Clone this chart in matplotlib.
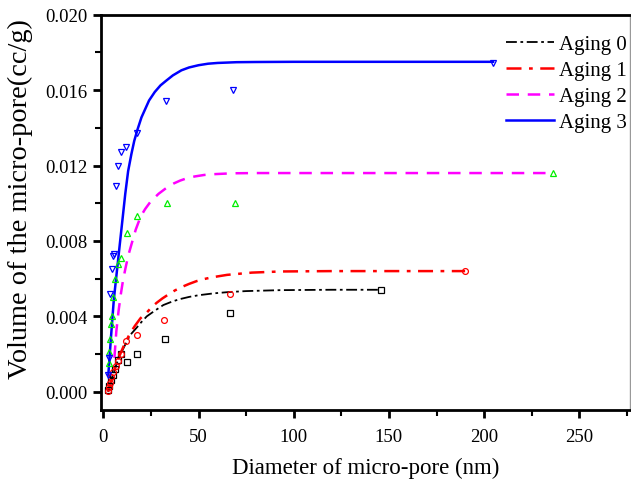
import numpy as np
import matplotlib
matplotlib.use('Agg')
import matplotlib.pyplot as plt
from matplotlib.ticker import MultipleLocator, FormatStrFormatter

plt.rcParams['font.family'] = ['Liberation Serif', 'DejaVu Serif']

# measured points (diameter nm, volume cc/g)
x0 = [2.6, 3.2, 4.0, 5.0, 6.0, 7.6, 9.5, 12.3, 17.5, 32.4, 66.4, 145.8]
y0 = [0.0001, 0.0003, 0.0006, 0.0009, 0.0012, 0.0017, 0.0020, 0.00159, 0.00198, 0.0028, 0.00419, 0.00541]

x1 = [2.5, 2.8, 3.4, 4.2, 5.1, 6.5, 7.7, 9.5, 11.8, 17.5, 32.0, 66.4, 190.0]
y1 = [0.00005, 0.00023, 0.00045, 0.00076, 0.00103, 0.00138, 0.00165, 0.0020, 0.0027, 0.0030, 0.0038, 0.00517, 0.00639]

x2 = [3.0, 3.2, 3.5, 3.9, 4.4, 4.9, 6.1, 7.9, 9.5, 12.3, 17.7, 33.6, 69.3, 236.2]
y2 = [0.0015, 0.0021, 0.0028, 0.0036, 0.0040, 0.0050, 0.0060, 0.0068, 0.0071, 0.0084, 0.0093, 0.0100, 0.0100, 0.0116]

x3 = [2.5, 3.0, 3.5, 4.4, 4.9, 5.4, 6.5, 7.6, 9.5, 12.1, 17.5, 32.9, 68.0, 204.7]
y3 = [0.0009, 0.0018, 0.0052, 0.0065, 0.0072, 0.0073, 0.0109, 0.0120, 0.0127, 0.0130, 0.0137, 0.0154, 0.0160, 0.01744]

# fitted curves
cx0 = [2.5, 5, 8, 11, 14, 17.5, 20, 22.8, 27, 31.5, 36, 40, 45, 50, 58, 66, 75, 93, 120, 145.8]
cy0 = [0.0, 0.0009, 0.0018, 0.0024, 0.0030, 0.0034, 0.0037, 0.0040, 0.0043, 0.0046, 0.00478, 0.00491, 0.00503, 0.00512, 0.00522, 0.00529, 0.00534, 0.00539, 0.00541, 0.00541]

cx1 = [2.5, 5, 8, 11, 14, 16.6, 19.5, 22.8, 25.5, 28, 31, 34, 37.5, 41, 45, 49, 53, 57, 65, 78, 93, 120, 190]
cy1 = [0.0, 0.0009, 0.0018, 0.0025, 0.0031, 0.0035, 0.0039, 0.0042, 0.0045, 0.00472, 0.00495, 0.00515, 0.00537, 0.00555, 0.00572, 0.00587, 0.00598, 0.00607, 0.0062, 0.00632, 0.00638, 0.0064, 0.0064]

cx2 = [5.8, 6.8, 8.0, 9.2, 10.3, 11.5, 13, 14.7, 17, 19.6, 22, 24.9, 29, 33.6, 37, 40.3, 44, 48, 53, 57.8, 64, 70, 80, 120, 236.2]
cy2 = [0.0018, 0.0032, 0.0043, 0.0052, 0.0059, 0.0065, 0.0072, 0.0078, 0.0086, 0.0093, 0.0097, 0.0101, 0.0105, 0.01085, 0.01105, 0.0112, 0.01133, 0.01142, 0.0115, 0.01154, 0.01157, 0.01159, 0.0116, 0.0116, 0.0116]

cx3 = [2.6, 4.0, 5.5, 7.0, 8.6, 10.0, 11.5, 13.0, 14.7, 16.2, 17.9, 20, 22, 24, 27, 30, 33, 36.5, 41, 45, 50, 55, 60, 70, 80, 100, 204.7]
cy3 = [0.0009, 0.0029, 0.0049, 0.0063, 0.0078, 0.0091, 0.0105, 0.0117, 0.0126, 0.0133, 0.0139, 0.01455, 0.0150, 0.01545, 0.0159, 0.01625, 0.0165, 0.01678, 0.01705, 0.0172, 0.01732, 0.0174, 0.01744, 0.01748, 0.01749, 0.0175, 0.0175]

labels = ['Aging 0', 'Aging 1', 'Aging 2', 'Aging 3']

fig = plt.figure(figsize=(6.31, 4.81), dpi=100)
ax = fig.add_axes([0.1596, 0.1462, 0.8388, 0.8212])

# curves
ax.plot(cx0, cy0, color='black', lw=1.3, dashes=(6, 2, 1.5, 2), label=labels[0])
ax.plot(cx1, cy1, color='red', lw=1.8, dashes=(6, 3, 1.5, 3), label=labels[1])
ax.plot(cx2, cy2, color='#ff00ff', lw=1.8, dashes=(5, 3.5), label=labels[2])
ax.plot(cx3, cy3, color='#0000ff', lw=1.8, label=labels[3])

# measured points
ms = 4.2
ax.plot(x0, y0, 's', ls='none', mfc='none', mec='black', ms=ms, mew=0.9)
ax.plot(x1, y1, 'o', ls='none', mfc='none', mec='red', ms=ms, mew=0.9)
ax.plot(x2, y2, '^', ls='none', mfc='none', mec='#00ee00', ms=ms + 0.6, mew=0.9)
ax.plot(x3, y3, 'v', ls='none', mfc='none', mec='#0000ff', ms=ms + 0.6, mew=0.9)

ax.set_xlim(-1.4, 276.6)
ax.set_ylim(-0.00095, 0.020)

ax.xaxis.set_major_locator(MultipleLocator(50))
ax.xaxis.set_minor_locator(MultipleLocator(25))
ax.yaxis.set_major_locator(MultipleLocator(0.004))
ax.yaxis.set_minor_locator(MultipleLocator(0.002))
ax.yaxis.set_major_formatter(FormatStrFormatter('%.3f'))

ax.tick_params(which='major', direction='out', length=6, width=2, labelsize=13.5,
               top=False, right=False)
ax.tick_params(axis='x', which='major', pad=7)
ax.tick_params(which='minor', direction='out', length=4, width=1.5, top=False, right=False)

for side in ['left', 'bottom', 'top']:
    ax.spines[side].set_linewidth(2)
ax.spines['right'].set_linewidth(1)
ax.spines['right'].set_color('#999999')

ax.set_xlabel('Diameter of micro-pore (nm)', fontsize=16.5, labelpad=9)
ax.set_ylabel('Volume of the micro-pore(cc/g)', fontsize=20.4)
ax.yaxis.set_label_coords(-0.127, 0.536)

ax.legend(loc='upper left', frameon=False, fontsize=15, handlelength=2.3,
          handletextpad=0.25, labelspacing=0.3, borderpad=0, borderaxespad=0,
          bbox_to_anchor=(0.765, 0.949))

fig.savefig('out.png', dpi=100)
